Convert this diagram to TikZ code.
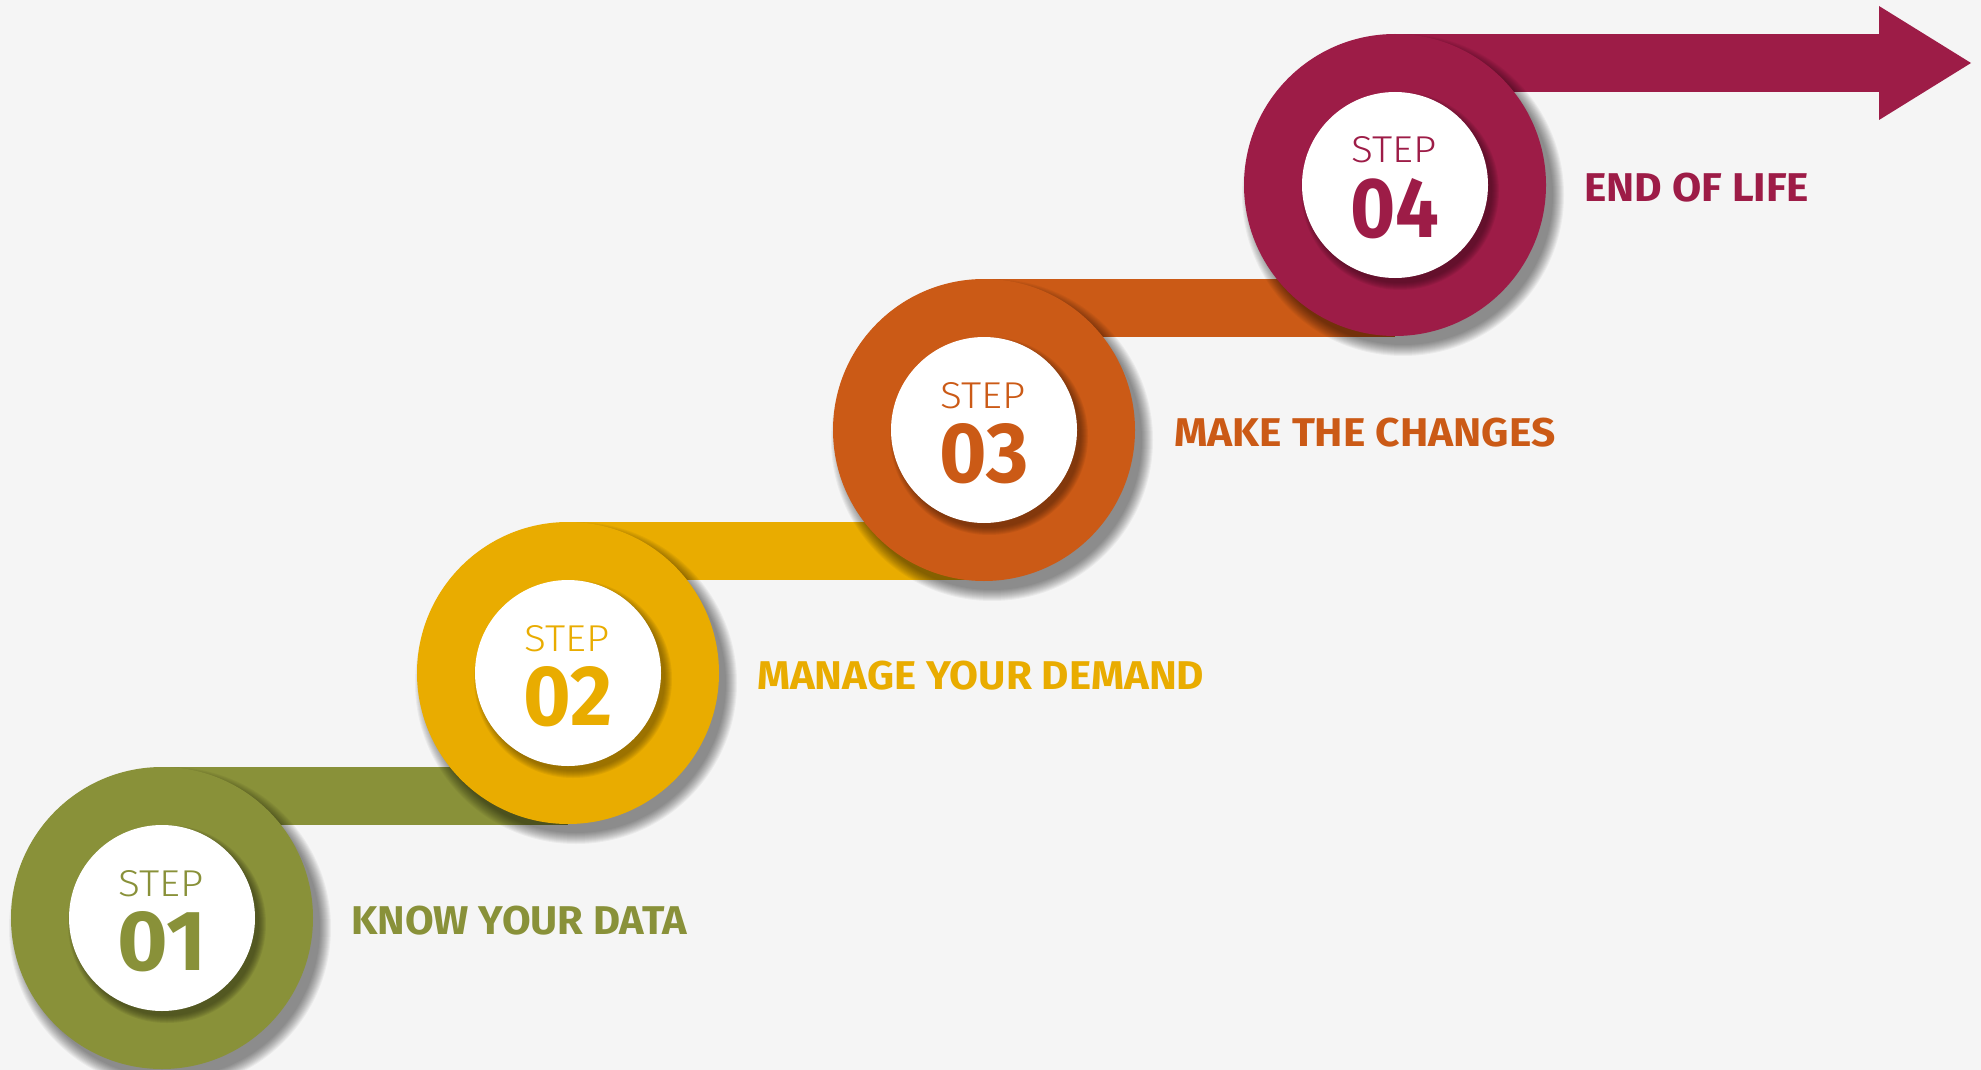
\documentclass[tikz,border=0pt]{standalone}
\usepackage{fontspec}
\usepackage{graphicx}
\setmainfont{Fira Sans}
\newfontfamily\lblfont{Fira Sans}
\usetikzlibrary{calc}
\definecolor{bgc}{HTML}{F5F5F5}
\definecolor{cgreen}{RGB}{137,145,57}
\definecolor{cyellow}{RGB}{233,172,0}
\definecolor{corange}{RGB}{203,90,22}
\definecolor{ccrimson}{RGB}{157,28,71}
\newcommand\ringshadow[2]{% center coordinate name, colour
  \foreach \k in {1,...,12}{
    \fill[#2,opacity=0.045] ($(#1)+(8,10)$) circle[radius={(162-\k)*1pt}];
  }}
\newcommand\innershadow[2]{%
  \foreach \k in {1,...,8}{
    \fill[#2,opacity=0.09] ($(#1)+(5,6)$) circle[radius={(100-\k)*1pt}];
  }}
\tikzset{
  ring/.style={circle,minimum size=302pt,inner sep=0pt,fill=#1},
  core/.style={circle,minimum size=186pt,inner sep=0pt,fill=white},
  steptxt/.style={anchor=base,inner sep=0pt,text=#1},
  lbl/.style={anchor=base west,inner sep=0pt,text=#1},
}
\newcommand\stepword{\resizebox{85pt}{26pt}{\fontspec{Fira Sans Light}STEP}}
\newcommand\stepnum[1]{\resizebox{89pt}{59pt}{\bfseries #1}}
\newcommand\lbltext[2]{\resizebox{#1}{28.5pt}{\lblfont\bfseries #2}}
\begin{document}
\begin{tikzpicture}[x=1pt,y=-1pt]
\useasboundingbox (0,0) rectangle (1981,1070);
\fill[bgc] (0,0) rectangle (1981,1070);
\coordinate (p1) at (162,918);
\coordinate (p2) at (568,673);
\coordinate (p3) at (984,430);
\coordinate (p4) at (1395,185);
\coordinate (h1) at (1879,6);
\coordinate (h2) at (1971,63);
\coordinate (h3) at (1879,120);
% step 1
\fill[cgreen] ($(p1)+(0,-151)$) rectangle ($(p2 |- p1)+(0,-93)$);
\ringshadow{p1}{black}
\node[ring=cgreen] (r1) at (p1) {};
\innershadow{p1}{black!70!cgreen}
\node[core] (c1) at (p1) {};
\node[steptxt=cgreen] (s1) at ($(p1)+(-1,-22)$) {\stepword};
\node[steptxt=cgreen] (n1) at ($(p1)+(0,52)$) {\stepnum{01}};
\node[lbl=cgreen] (l1) at ($(p1)+(189,16.5)$) {\lbltext{336pt}{KNOW YOUR DATA}};
% step 2
\fill[cyellow] ($(p2)+(0,-151)$) rectangle ($(p3 |- p2)+(0,-93)$);
\ringshadow{p2}{black}
\node[ring=cyellow] (r2) at (p2) {};
\innershadow{p2}{black!60!cyellow}
\node[core] (c2) at (p2) {};
\node[steptxt=cyellow] (s2) at ($(p2)+(-1,-22)$) {\stepword};
\node[steptxt=cyellow] (n2) at ($(p2)+(0,52)$) {\stepnum{02}};
\node[lbl=cyellow] (l2) at ($(p2)+(189,16.5)$) {\lbltext{447pt}{MANAGE YOUR DEMAND}};
% step 3
\fill[corange] ($(p3)+(0,-151)$) rectangle ($(p4 |- p3)+(0,-93)$);
\ringshadow{p3}{black}
\node[ring=corange] (r3) at (p3) {};
\innershadow{p3}{black!65!corange}
\node[core] (c3) at (p3) {};
\node[steptxt=corange] (s3) at ($(p3)+(-1,-22)$) {\stepword};
\node[steptxt=corange] (n3) at ($(p3)+(0,52)$) {\stepnum{03}};
\node[lbl=corange] (l3) at ($(p3)+(190,16.5)$) {\lbltext{381pt}{MAKE THE CHANGES}};
% step 4 with arrow
\fill[ccrimson] ($(p4)+(0,-151)$) rectangle ($(h1 |- p4)+(0,-93)$);
\fill[ccrimson] (h1) -- (h2) -- (h3) -- cycle;
\ringshadow{p4}{black}
\node[ring=ccrimson] (r4) at (p4) {};
\innershadow{p4}{black!65!ccrimson}
\node[core] (c4) at (p4) {};
\node[steptxt=ccrimson] (s4) at ($(p4)+(-1,-22)$) {\stepword};
\node[steptxt=ccrimson] (n4) at ($(p4)+(0,52)$) {\stepnum{04}};
\node[lbl=ccrimson] (l4) at ($(p4)+(189,16.5)$) {\lbltext{225pt}{END OF LIFE}};
\end{tikzpicture}
\end{document}
